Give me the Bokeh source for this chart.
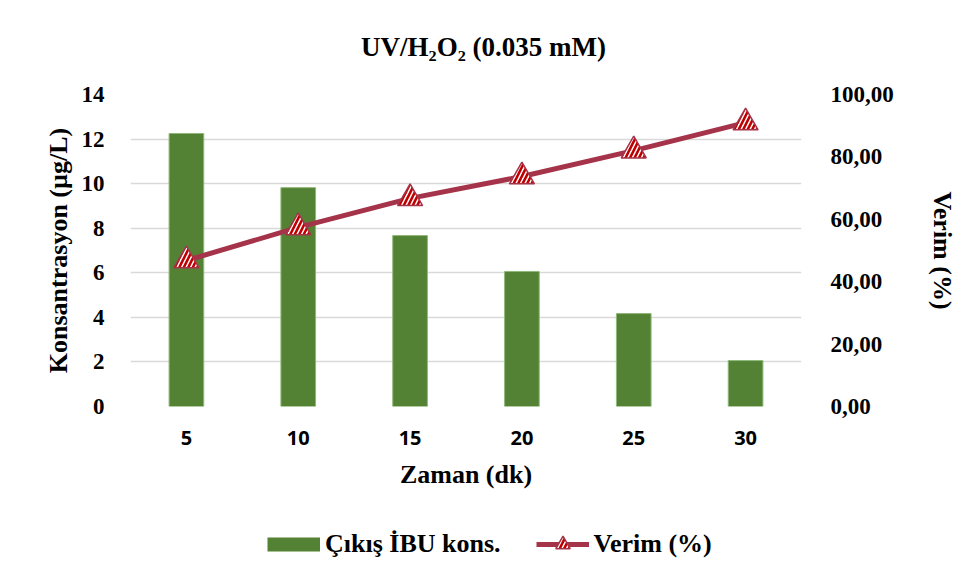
from bokeh.plotting import figure
from bokeh.layouts import column
from bokeh.models import (Range1d, FactorRange, LinearAxis, FixedTicker,
                          CustomJSTickFormatter, Legend, LegendItem, Label)
from bokeh.embed import file_html
from bokeh.resources import INLINE

# ---- data ----
times = ["5", "10", "15", "20", "25", "30"]
conc = [12.25, 9.82, 7.67, 6.06, 4.17, 2.06]          # Çıkış İBU kons. (µg/L)
verim = [46.8, 57.4, 66.7, 73.7, 82.0, 91.0]          # Verim (%)
left_ticks = [0, 2, 4, 6, 8, 10, 12, 14]
right_ticks = [0, 20, 40, 60, 80, 100]

title_text = "UV/H\u2082O\u2082 (0.035 mM)"
bar_label = "Çıkış İBU kons."
line_label = "Verim (%)"
serif = "Liberation Serif"
green = "#548235"
wine = "#a5344a"
W = 960


def bare(height, **kw):
    f = figure(width=W, height=height, output_backend="svg", toolbar_location=None,
               min_border=0, **kw)
    f.outline_line_color = None
    f.axis.visible = False
    f.grid.visible = False
    f.background_fill_color = "white"
    f.border_fill_color = "white"
    return f


# ---- title strip (its frame is aligned with the main chart's frame) ----
pt = bare(70, x_range=Range1d(0, 1), y_range=Range1d(0, 1))
pt.add_layout(Label(x=353, y=24, x_units="screen", y_units="screen",
                    text=title_text, text_font=serif, text_font_style="bold",
                    text_font_size="27px", text_align="center",
                    text_baseline="middle", text_color="black"))

# ---- main chart ----
p = figure(width=W, height=430, x_range=FactorRange(*times, range_padding=0),
           y_range=Range1d(0, 14), output_backend="svg", toolbar_location=None,
           min_border_left=130, min_border_right=159, min_border_top=24,
           min_border_bottom=94)
p.outline_line_color = None
p.background_fill_color = "white"
p.border_fill_color = "white"
p.extra_y_ranges = {"right": Range1d(0, 100)}

p.xgrid.grid_line_color = None
p.ygrid.grid_line_color = "#d9d9d9"
p.ygrid.grid_line_width = 1.5
p.ygrid.ticker = FixedTicker(ticks=left_ticks)

p.vbar(x=times, top=conc, width=0.31, fill_color=green,
       line_color="#8fb878", line_width=1)
p.line(x=times, y=verim, y_range_name="right", line_color=wine, line_width=5)
marker_style = dict(marker="triangle", fill_color="white", line_color=wine,
                    line_width=1.5, hatch_pattern="/", hatch_color="#c00000",
                    hatch_scale=9, hatch_weight=2.6)
p.scatter(x=times, y=verim, y_range_name="right", size=25, **marker_style)

la = p.yaxis[0]
la.ticker = FixedTicker(ticks=left_ticks)
la.axis_label = "Konsantrasyon (µg/L)"
xa = p.xaxis[0]
xa.axis_label = "Zaman (dk)"
ra = LinearAxis(y_range_name="right", ticker=FixedTicker(ticks=right_ticks),
                formatter=CustomJSTickFormatter(code="return tick.toFixed(2).replace('.', ',');"),
                axis_label="Verim (%)")
p.add_layout(ra, "right")

for ax in (la, ra, xa):
    ax.axis_line_color = None
    ax.major_tick_line_color = None
    ax.minor_tick_line_color = None
    ax.axis_label_text_font = serif
    ax.axis_label_text_font_style = "bold"
    ax.axis_label_text_font_size = "26px"
    ax.axis_label_text_color = "black"
    ax.major_label_text_color = "black"
    ax.major_label_text_font_style = "bold"
for ax in (la, ra):
    ax.major_label_text_font = serif
    ax.major_label_text_font_size = "23px"
la.major_label_standoff = 20
la.axis_label_standoff = 6
ra.major_label_standoff = 23
ra.axis_label_standoff = 31
xa.major_label_text_font = "Open Sans"
xa.major_label_text_font_size = "20px"
xa.major_label_standoff = 18
xa.axis_label_standoff = 12

# ---- legend strip (hidden copies of the series only supply legend styles) ----
pl = bare(78, x_range=FactorRange(*times), y_range=Range1d(0, 100))
sw = pl.line(x=times, y=conc, line_color=green, line_width=14, line_cap="butt",
             visible=False)
l2 = pl.line(x=times, y=verim, line_color=wine, line_width=5, visible=False)
m2 = pl.scatter(x=times, y=verim, size=25, visible=False, **marker_style)
lg = Legend(items=[LegendItem(label=bar_label, renderers=[sw]),
                   LegendItem(label=line_label, renderers=[l2, m2])],
            location=(137, 16), orientation="horizontal",
            glyph_width=53, glyph_height=36, spacing=35, label_standoff=5,
            border_line_color=None, background_fill_alpha=0, padding=0,
            margin=0, label_text_font=serif, label_text_font_style="bold",
            label_text_font_size="26px", label_text_color="black",
            inactive_fill_alpha=0)
pl.add_layout(lg, "center")

layout = column(pt, p, pl, spacing=0)
open("out.html", "w").write(file_html(layout, INLINE))
